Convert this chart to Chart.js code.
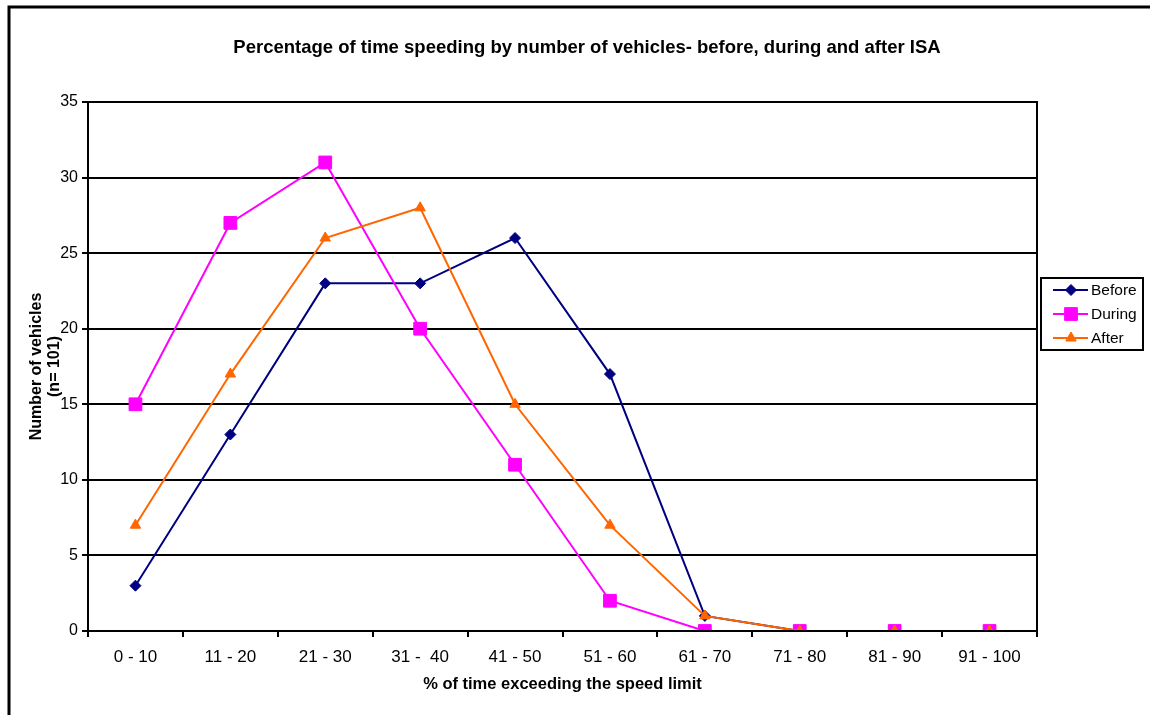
<!DOCTYPE html>
<html>
<head>
<meta charset="utf-8">
<script src="https://cdn.jsdelivr.net/npm/chart.js@4.4.0/dist/chart.umd.min.js"></script>
<style>
  html, body { margin: 0; padding: 0; background: #fff; }
  #wrap { width: 1150px; height: 715px; }
</style>
</head>
<body>
<div id="wrap"><canvas id="myChart" width="1150" height="715"></canvas></div>
<script>
const categories = ['0 - 10', '11 - 20', '21 - 30', '31 -  40', '41 - 50', '51 - 60', '61 - 70', '71 - 80', '81 - 90', '91 - 100'];
const before = [3, 13, 23, 23, 26, 17, 1, 0, 0, 0];
const during = [15, 27, 31, 20, 11, 2, 0, 0, 0, 0];
const after = [7, 17, 26, 28, 15, 7, 1, 0, 0, 0];
const yTicks = [0, 5, 10, 15, 20, 25, 30, 35];
const chartTitle = 'Percentage of time speeding by number of vehicles- before, during and after ISA';

const FONT = "'Liberation Sans', Arial, sans-serif";
const ctx = document.getElementById('myChart');

// outer frame, title, plot border and the boxed legend
const framePlugin = {
  id: 'frame',
  beforeDraw(chart) {
    const c = chart.ctx;
    c.save();
    c.fillStyle = '#fff';
    c.fillRect(0, 0, chart.width, chart.height);
    c.strokeStyle = '#000';
    c.lineWidth = 3;
    c.beginPath();
    c.moveTo(9, chart.height);
    c.lineTo(9, 7);
    c.lineTo(chart.width, 7);
    c.stroke();

    c.fillStyle = '#000';
    c.font = 'bold 18.5px ' + FONT;
    c.textAlign = 'center';
    c.textBaseline = 'middle';
    c.fillText(chartTitle, 587, 48);
    c.restore();
  },
  afterDraw(chart) {
    const c = chart.ctx;
    const a = chart.chartArea;
    c.save();
    c.strokeStyle = '#000';
    c.lineWidth = 2;
    c.strokeRect(a.left, a.top, a.right - a.left, a.bottom - a.top);

    // legend
    const bx = 1041, by = 278, bw = 102, bh = 72;
    c.fillStyle = '#fff';
    c.fillRect(bx, by, bw, bh);
    c.lineWidth = 2;
    c.strokeRect(bx, by, bw, bh);
    chart.data.datasets.forEach((ds, i) => {
      const y = by + 12 + i * 24;
      c.strokeStyle = ds.borderColor;
      c.fillStyle = ds.borderColor;
      c.lineWidth = 2;
      c.beginPath();
      c.moveTo(1053, y);
      c.lineTo(1088, y);
      c.stroke();
      c.lineWidth = 1;
      Chart.helpers.drawPoint(c, {
        pointStyle: ds.pointStyle,
        radius: ds.pointRadius,
        borderWidth: 1
      }, 1071, y);
      c.fillStyle = '#000';
      c.font = '15.5px ' + FONT;
      c.textBaseline = 'middle';
      c.textAlign = 'left';
      c.fillText(ds.label, 1091, y + 1);
    });
    c.restore();
  }
};

function makeSet(label, data, color, style, radius, order) {
  return {
    label: label,
    data: data,
    borderColor: color,
    backgroundColor: color,
    pointBackgroundColor: color,
    pointBorderColor: color,
    borderWidth: 2,
    pointStyle: style,
    pointRadius: radius,
    pointHoverRadius: radius,
    pointBorderWidth: 1,
    tension: 0,
    order: order
  };
}

const chart = new Chart(ctx, {
  type: 'line',
  data: {
    labels: categories,
    datasets: [
      makeSet('Before', before, '#000080', 'rectRot', 5.5, 2),
      makeSet('During', during, '#FF00FF', 'rect', 9, 1),
      makeSet('After', after, '#FF6600', 'triangle', 6, 0)
    ]
  },
  options: {
    responsive: false,
    animation: false,
    events: [],
    layout: {
      padding: { left: 10, right: 113, top: 102, bottom: 0 }
    },
    scales: {
      x: {
        offset: true,
        grid: {
          offset: true,
          drawOnChartArea: false,
          color: '#000',
          lineWidth: 2,
          tickLength: 6
        },
        border: { color: '#000', width: 2 },
        ticks: {
          color: '#000',
          padding: 10,
          maxRotation: 0,
          font: { family: FONT, size: 17 }
        },
        title: {
          display: true,
          text: '% of time exceeding the speed limit',
          color: '#000',
          padding: { top: 10, bottom: 21 },
          font: { family: FONT, size: 16.5, weight: 'bold' }
        },
        afterFit(scale) {
          scale.height = 84;
        }
      },
      y: {
        min: 0,
        max: 35,
        afterBuildTicks(scale) {
          scale.ticks = yTicks.map(v => ({ value: v }));
        },
        grid: {
          color: '#000',
          lineWidth: 2,
          tickLength: 6
        },
        border: { color: '#000', width: 2 },
        ticks: {
          color: '#000',
          padding: 4,
          font: { family: FONT, size: 16 }
        },
        title: {
          display: true,
          text: ['Number of vehicles', '(n= 101)'],
          color: '#000',
          padding: { top: 18, bottom: 0 },
          font: { family: FONT, size: 16, weight: 'bold', lineHeight: 1.1 }
        },
        afterFit(scale) {
          scale.width = 78;
        }
      }
    },
    plugins: {
      legend: { display: false },
      tooltip: { enabled: false },
      title: { display: false }
    }
  },
  plugins: [framePlugin]
});
</script>
</body>
</html>
